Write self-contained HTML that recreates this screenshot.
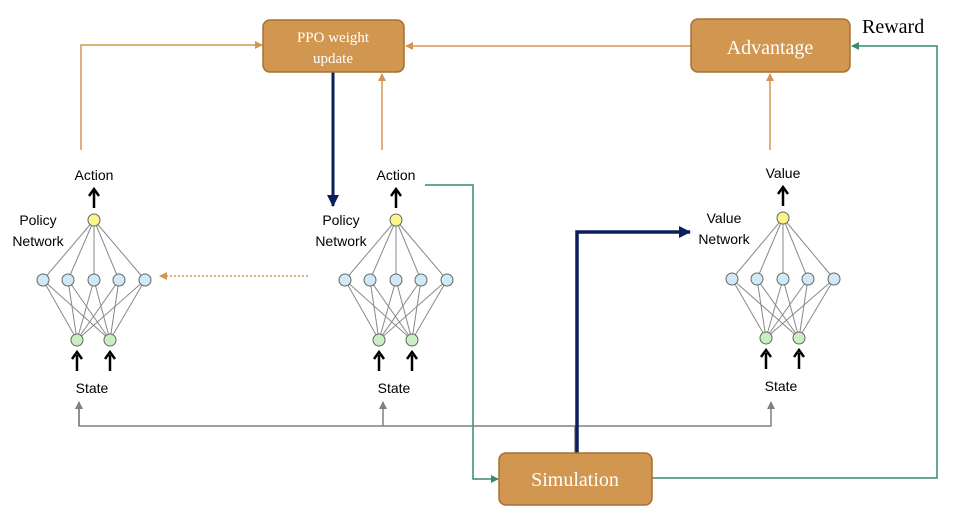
<!DOCTYPE html>
<html><head><meta charset="utf-8"><style>
html,body{margin:0;padding:0;background:#fff;width:959px;height:518px;overflow:hidden}
</style></head><body>
<svg id="s" width="959" height="518" viewBox="0 0 959 518" xmlns="http://www.w3.org/2000/svg" font-family="'Liberation Sans',sans-serif">
<defs>
<marker id="ao" markerWidth="8" markerHeight="8" refX="7" refY="4" orient="auto" markerUnits="userSpaceOnUse"><path d="M0,0 L8,4 L0,8 z" fill="#d4964f"/></marker>
<marker id="ag" markerWidth="8" markerHeight="8" refX="7" refY="4" orient="auto" markerUnits="userSpaceOnUse"><path d="M0,0 L8,4 L0,8 z" fill="#3a8a6c"/></marker>
<marker id="ab" markerWidth="12" markerHeight="12" refX="11" refY="6" orient="auto" markerUnits="userSpaceOnUse"><path d="M0,0 L12,6 L0,12 z" fill="#0a1f5c"/></marker>
<marker id="ay" markerWidth="8" markerHeight="8" refX="7" refY="4" orient="auto" markerUnits="userSpaceOnUse"><path d="M0,0 L8,4 L0,8 z" fill="#808080"/></marker>
</defs>
<g fill="none" stroke-width="1.5">
<polyline points="81,150 81,45 262,45" stroke="#d4964f" marker-end="url(#ao)"/>
<line x1="382" y1="150" x2="382" y2="74" stroke="#d4964f" marker-end="url(#ao)"/>
<line x1="691" y1="46" x2="406" y2="46" stroke="#d4964f" marker-end="url(#ao)"/>
<line x1="770" y1="150" x2="770" y2="74" stroke="#d4964f" marker-end="url(#ao)"/>
<line x1="308" y1="276" x2="160" y2="276" stroke="#d4964f" stroke-dasharray="2,2" marker-end="url(#ao)"/>
<polyline points="425,185 473,185 473,479 498,479" stroke="#3a8a6c" marker-end="url(#ag)"/>
<polyline points="652,478 937,478 937,46 852,46" stroke="#3a8a6c" marker-end="url(#ag)"/>
<polyline points="79,408 79,426 771,426 771,402" stroke="#808080" marker-end="url(#ay)"/>
<line x1="79" y1="426" x2="79" y2="402" stroke="#808080" marker-end="url(#ay)"/>
<line x1="383" y1="426" x2="383" y2="402" stroke="#808080" marker-end="url(#ay)"/>
<line x1="575" y1="453" x2="575" y2="426" stroke="#808080"/>
<line x1="333" y1="72" x2="333" y2="206" stroke="#0a1f5c" stroke-width="3" marker-end="url(#ab)"/>
<polyline points="577,453 577,232 690,232" stroke="#0a1f5c" stroke-width="3.5" marker-end="url(#ab)"/>
</g>
<g id="nets"></g>
<g stroke="#a57035" stroke-width="1.5" fill="#d19650">
<rect x="263" y="20" width="141" height="52" rx="7"/>
<rect x="691" y="19" width="159" height="53" rx="7"/>
<rect x="499" y="453" width="153" height="52" rx="7"/>
</g>
<g font-family="'Liberation Serif',serif" fill="#fff" text-anchor="middle">
<text x="333" y="42" font-size="15">PPO weight</text>
<text x="333" y="63" font-size="15">update</text>
<text x="770" y="54" font-size="20">Advantage</text>
<text x="575" y="486" font-size="20">Simulation</text>
</g>
<text x="862" y="33" font-family="'Liberation Serif',serif" font-size="20" fill="#000">Reward</text>
</svg>
<script>
var g=document.getElementById('nets'),h='';
function net(cx,yy,hy,gy,lab1,lab2,labx,top,sty){
 var hx=[cx-51,cx-26,cx,cx+25,cx+51],gx=[cx-17,cx+16];
 hx.forEach(function(x){h+='<line x1="'+cx+'" y1="'+yy+'" x2="'+x+'" y2="'+hy+'" stroke="#888" stroke-width="1"/>';
  gx.forEach(function(z){h+='<line x1="'+x+'" y1="'+hy+'" x2="'+z+'" y2="'+gy+'" stroke="#888" stroke-width="1"/>';});});
 hx.forEach(function(x){h+='<circle cx="'+x+'" cy="'+hy+'" r="6" fill="#cfe9f7" stroke="#666"/>';});
 gx.forEach(function(x){h+='<circle cx="'+x+'" cy="'+gy+'" r="6" fill="#c8efc0" stroke="#666"/>';
  h+='<line x1="'+x+'" y1="'+(gy+31)+'" x2="'+x+'" y2="'+(gy+15)+'" stroke="#000" stroke-width="2.5"/><path d="M'+(x-5)+','+(gy+19)+' L'+x+','+(gy+12)+' L'+(x+5)+','+(gy+19)+'" fill="none" stroke="#000" stroke-width="2.5"/>';});
 h+='<circle cx="'+cx+'" cy="'+yy+'" r="6" fill="#fbf58a" stroke="#666"/>';
 h+='<line x1="'+cx+'" y1="'+(yy-12)+'" x2="'+cx+'" y2="'+(yy-29)+'" stroke="#000" stroke-width="2.5"/><path d="M'+(cx-5)+','+(yy-24)+' L'+cx+','+(yy-31)+' L'+(cx+5)+','+(yy-24)+'" fill="none" stroke="#000" stroke-width="2.5"/>';
 h+='<text x="'+cx+'" y="'+(yy-40)+'" font-size="14" text-anchor="middle">'+top+'</text>';
 h+='<text x="'+labx+'" y="'+(yy+5)+'" font-size="14" text-anchor="middle">'+lab1+'</text>';
 h+='<text x="'+labx+'" y="'+(yy+26)+'" font-size="14" text-anchor="middle">'+lab2+'</text>';
 h+='<text x="'+(cx-2)+'" y="'+(gy+53)+'" font-size="14" text-anchor="middle">State</text>';
}
net(94,220,280,340,'Policy','Network',38,'Action');
net(396,220,280,340,'Policy','Network',341,'Action');
net(783,218,279,338,'Value','Network',724,'Value');
g.innerHTML=h;
</script>
</body></html>
